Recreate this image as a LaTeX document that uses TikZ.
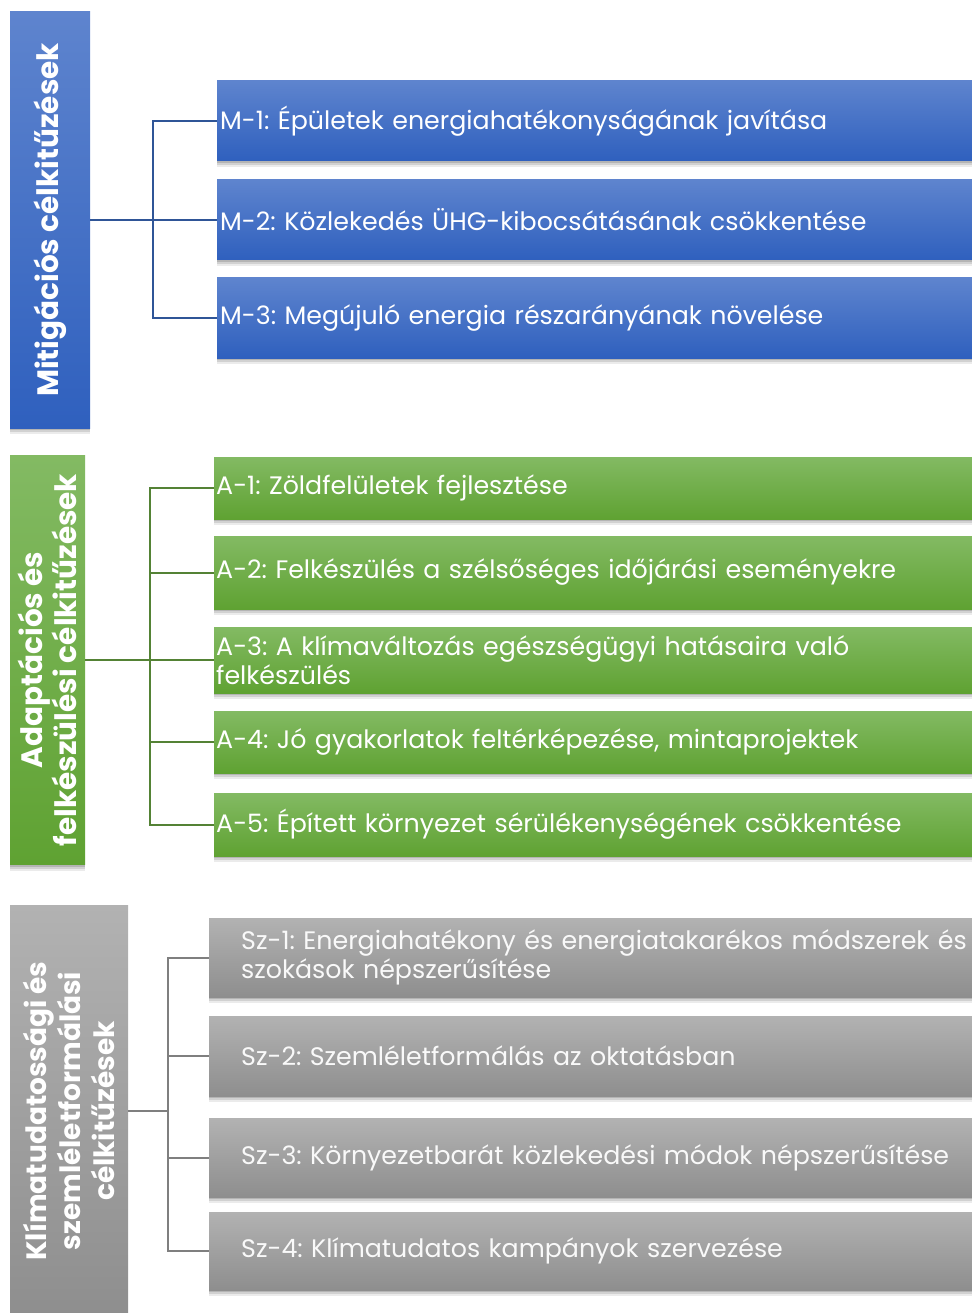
\documentclass[tikz,border=0pt]{standalone}
\usepackage{fontspec}
\setmainfont{Poppins}
\frenchspacing
\usetikzlibrary{shadows}
\definecolor{bluetop}{HTML}{5E84CE}
\definecolor{bluebot}{HTML}{2F60BE}
\definecolor{greentop}{HTML}{83BA63}
\definecolor{greenbot}{HTML}{5FA232}
\definecolor{graytop}{HTML}{B2B2B2}
\definecolor{graybot}{HTML}{8E8E8E}
\definecolor{blueline}{HTML}{2F5597}
\definecolor{greenline}{HTML}{548235}
\definecolor{grayline}{HTML}{7F7F7F}
\tikzset{
  softshadow/.style={
    drop shadow={shadow xshift=0pt,shadow yshift=-2pt,fill=black,opacity=0.14},
    drop shadow={shadow xshift=0pt,shadow yshift=-4pt,fill=black,opacity=0.11},
    drop shadow={shadow xshift=0pt,shadow yshift=-6pt,fill=black,opacity=0.08}},
  itembox/.style={rectangle,anchor=west,text width=760pt,align=left,
    font=\fontsize{25.3}{29}\selectfont,text=white,softshadow},
  mitem/.style={itembox,top color=bluetop,bottom color=bluebot,inner xsep=3pt,minimum height=80pt},
  aitem/.style={itembox,top color=greentop,bottom color=greenbot,inner xsep=2pt},
  sitem/.style={itembox,top color=graytop,bottom color=graybot,inner xsep=32pt,text=white!95!gray},
  headbox/.style={rectangle,softshadow},
  headlabel/.style={rotate=90,align=center,text=white,font=\bfseries\fontsize{29.5}{34}\selectfont},
  mline/.style={draw=blueline,line width=2pt},
  aline/.style={draw=greenline,line width=2pt},
  sline/.style={draw=grayline,line width=2pt},
}
\begin{document}
\begin{tikzpicture}[x=1pt,y=-1pt]
\useasboundingbox (0,0) rectangle (971,1313);
% ---- Mitigation
\node[headbox,top color=bluetop,bottom color=bluebot,minimum width=80pt,minimum height=416pt] (mbox) at (50,220) {};
\node[headlabel] (mlabel) at (mbox.center) {Mitigációs célkitűzések};
\node[mitem] (m1) at (217,121) {M-1: Épületek energiahatékonyságának javítása};
\node[mitem] (m2) at (217,220) {M-2: Közlekedés ÜHG-kibocsátásának csökkentése};
\node[mitem] (m3) at (217,318) {M-3: Megújuló energia részarányának növelése};
\coordinate (mj) at (153,220);
\draw[mline] (mbox.east) -- (mj);
\draw[mline] (m1.west) -| (mj) |- (m3.west);
\draw[mline] (mj) -- (m2.west);
% ---- Adaptation
\node[headbox,top color=greentop,bottom color=greenbot,minimum width=75pt,minimum height=409pt] (abox) at (47.5,660) {};
\node[headlabel] (alabel) at (abox.center) {Adaptációs és\\felkészülési célkitűzések};
\node[aitem,minimum height=62pt] (a1) at (214,488) {A-1: Zöldfelületek fejlesztése};
\node[aitem,minimum height=73pt] (a2) at (214,572.5) {A-2: Felkészülés a szélsőséges időjárási eseményekre};
\node[aitem,minimum height=66pt] (a3) at (214,660) {A-3: A klímaváltozás egészségügyi hatásaira való\\felkészülés};
\node[aitem,minimum height=62pt] (a4) at (214,742) {A-4: Jó gyakorlatok feltérképezése, mintaprojektek};
\node[aitem,minimum height=63pt] (a5) at (214,824.5) {A-5: Épített környezet sérülékenységének csökkentése};
\coordinate (aj) at (150,660);
\draw[aline] (abox.east) -- (aj);
\draw[aline] (a1.west) -| (aj) |- (a5.west);
\draw[aline] (a2.west) -- (a2.west -| aj);
\draw[aline] (a3.west) -- (aj);
\draw[aline] (a4.west) -- (a4.west -| aj);
% ---- Awareness
\node[headbox,top color=graytop,bottom color=graybot,minimum width=118pt,minimum height=412pt] (sbox) at (69,1111) {};
\node[headlabel,font=\bfseries\fontsize{28}{34}\selectfont] (slabel) at (sbox.center) {Klímatudatossági és\\szemléletformálási\\célkitűzések};
\node[sitem,minimum height=79pt] (s1) at (209,957.5) {Sz-1: Energiahatékony és energiatakarékos módszerek és\\szokások népszerűsítése};
\node[sitem,minimum height=80pt] (s2) at (209,1056) {Sz-2: Szemléletformálás az oktatásban};
\node[sitem,minimum height=79pt] (s3) at (209,1157.5) {Sz-3: Környezetbarát közlekedési módok népszerűsítése};
\node[sitem,minimum height=78pt] (s4) at (209,1251) {Sz-4: Klímatudatos kampányok szervezése};
\coordinate (sj) at (168,1111);
\draw[sline] (sbox.east) -- (sj);
\draw[sline] (s1.west) -| (sj) |- (s4.west);
\draw[sline] (s2.west) -- (s2.west -| sj);
\draw[sline] (s3.west) -- (s3.west -| sj);
\end{tikzpicture}
\end{document}
